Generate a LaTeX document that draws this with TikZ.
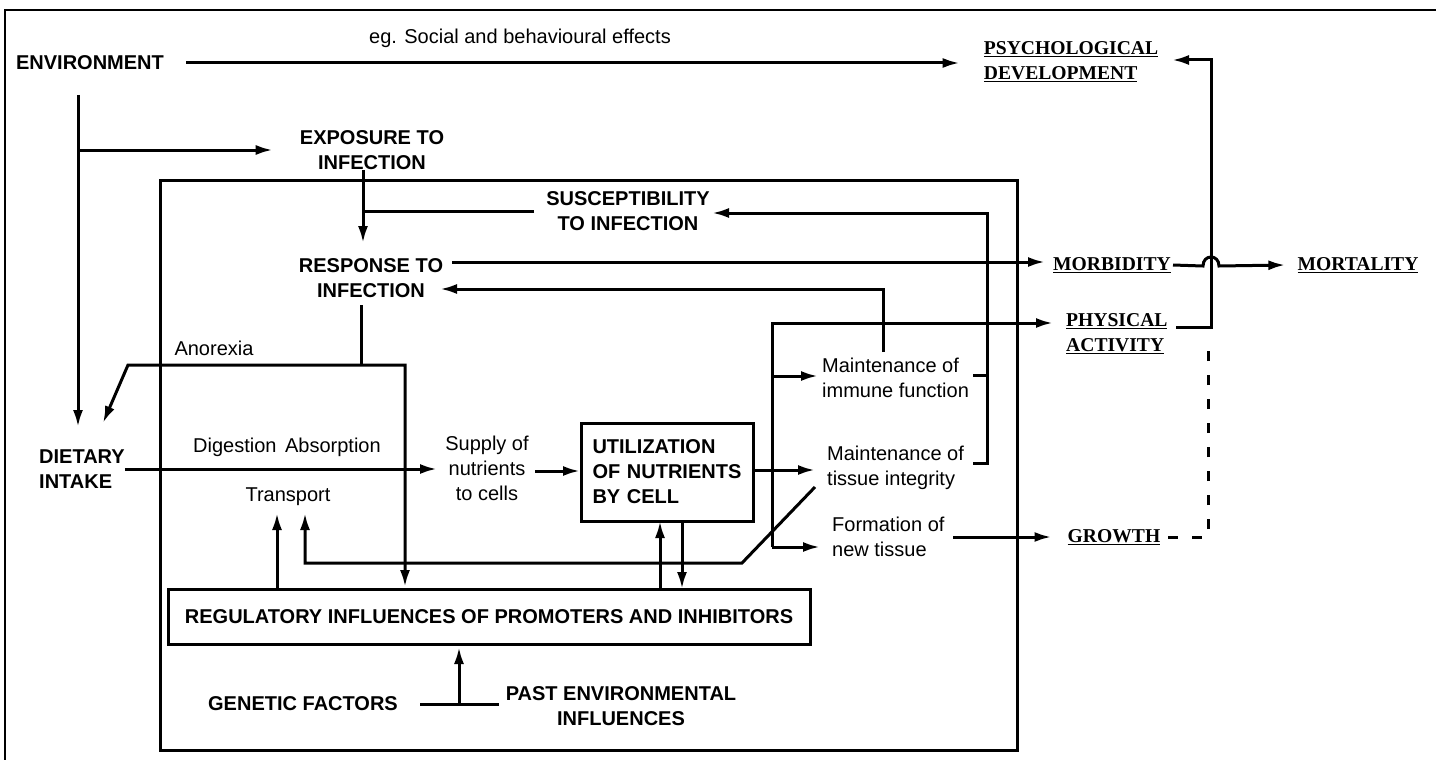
\documentclass[tikz,border=0pt]{standalone}
\usepackage{fontspec}
\setmainfont{Liberation Sans}
\newfontfamily\serifd{Liberation Serif}
\usetikzlibrary{arrows.meta}
\begin{document}
\begin{tikzpicture}[x=1pt,y=-1pt,
  ln/.style={line width=3pt},
  tip/.tip={Latex[length=17pt,width=10pt]},
  arr/.style={ln,-tip},
  lbl/.style={inner sep=0pt,font=\fontsize{20}{25}\selectfont,align=center},
  blbl/.style={inner sep=0pt,font=\fontsize{20}{25}\selectfont\bfseries,align=center},
  outl/.style={inner sep=0pt,font=\serifd\fontsize{19.6}{25}\selectfont\bfseries,align=left},
  boxn/.style={draw,ln,inner sep=0pt}
  ]
\useasboundingbox (0,0) rectangle (1436,760);
\fill[white] (0,0) rectangle (1436,760);
% frame
\draw[line width=1.5pt] (5,760) -- (5,10) -- (1436,10);
% big box
\draw[ln] (160,180) rectangle (1017,750);

% nodes
\node[blbl] (env) at (90,63) {ENVIRONMENT};
\node[lbl] (eg) at (520,38) {eg. Social and behavioural effects};
\node[outl] (psych) at (1071,62) {\underline{PSYCHOLOGICAL}\\\underline{DEVELOPMENT}};
\node[blbl] (expo) at (372,150) {EXPOSURE TO\\INFECTION};
\node[blbl] (susc) at (628,211) {SUSCEPTIBILITY\\TO INFECTION};
\node[blbl] (resp) at (371,278) {RESPONSE TO\\INFECTION};
\node[outl] (morb) at (1112,265) {\underline{MORBIDITY}};
\node[outl] (mort) at (1358,265) {\underline{MORTALITY}};
\node[outl,anchor=west] (phys) at (1066,334) {\underline{PHYSICAL}\\\underline{ACTIVITY}};
\node[lbl] (anor) at (214,348) {Anorexia};
\node[blbl,align=left,anchor=west] (diet) at (39,469) {DIETARY\\INTAKE};
\node[lbl] (digabs) at (287,447) {Digestion\hspace{3pt} Absorption};
\node[lbl] (transp) at (288,497) {Transport};
\node[lbl] (supply) at (487,468) {Supply of\\nutrients\\to cells};
\node[boxn,blbl,align=left,text width=150pt,inner xsep=11pt,minimum height=98pt] (util) at (667.5,472) {UTILIZATION\\OF NUTRIENTS\\BY CELL};
\node[lbl,align=left,anchor=west] (immune) at (822,378) {Maintenance of\\immune function};
\node[lbl,align=left,anchor=west] (tissue) at (827,468) {Maintenance of\\tissue integrity};
\node[lbl,align=left,anchor=west] (form) at (832,537) {Formation of\\new tissue};
\node[outl] (growth) at (1114,537) {\underline{GROWTH}};
\node[boxn,blbl,minimum width=642pt,minimum height=55pt] (reg) at (489,616.5) {REGULATORY INFLUENCES OF PROMOTERS AND INHIBITORS};
\node[blbl] (gen) at (303,704) {GENETIC FACTORS};
\node[blbl] (past) at (621,706) {PAST ENVIRONMENTAL\\INFLUENCES};

% connectors
\draw[arr,shorten <=22pt,shorten >=24pt] (env.east) -- (env.east -| psych.west);
\coordinate (envdrop) at (78,95);
\draw[arr] (envdrop) -- (78,427);
\draw[arr] (envdrop |- expo.west) -- ([xshift=-27pt]expo.west);
\coordinate (j1) at (363,211);
\draw[arr] (expo.south -| j1) -- (363,243);
\draw[ln] ([xshift=-12pt]susc.west) -- (j1);
\coordinate (r1) at (452,262);
\draw[arr] (r1) -- ([xshift=-8pt]morb.west |- r1);
% tissue / immune -> susceptibility
\draw[arr] (973,463) -- (987,463) -- (987,213) -- (712,213);
\draw[ln] (973,375) -- (987,375);
% immune -> response
\draw[arr] (883,352) -- (883,289) -- (440,289);
% response -> anorexia
\draw[ln] (361,305) -- (361,365);
\draw[ln,tip-tip] (103,423) -- (128,365) -- (405,365) -- (405,587);
% dietary intake
\draw[arr] (diet.east) -- (437,469);
% transport
\draw[arr] (277,589) -- (277,513);
\draw[arr] (815,487) -- (742,563) -- (305,563) -- (305,513);
% supply -> util
\draw[arr] (535,471) -- (util.west |- 535,471);
\draw[arr] (660,589) -- (660,521);
\draw[arr] (682,521) -- (682,589);
\draw[arr] ([yshift=2pt]util.east) -- (815,470);
% distribution
\draw[arr] (772,547) -- (772,323) -- (1053,323);
\draw[arr] (772,376) -- (818,376);
\draw[arr] (772,547) -- (820,547);
\draw[arr] (953,537) -- ([xshift=-16pt]growth.west);
% genetic / past
\draw[ln] ([xshift=22pt]gen.east) -- ([xshift=-7pt]past.west |- gen.east);
\draw[arr] (459,705) -- (459,647);
% morbidity -> mortality with hop
\draw[arr] ([xshift=2pt]morb.east) -- (1203,266) .. controls (1203,254) and (1219,254) .. (1219,266) -- ([xshift=-12pt]mort.west);
% physical activity -> psychological development
\draw[arr] (1176,327) -- (1211,327) -- (1211,60) -- (1172,60);
% growth dashed
\draw[ln,dash pattern=on 10pt off 14pt] (1168,537) -- (1208,537) -- (1208,337);
\end{tikzpicture}
\end{document}
